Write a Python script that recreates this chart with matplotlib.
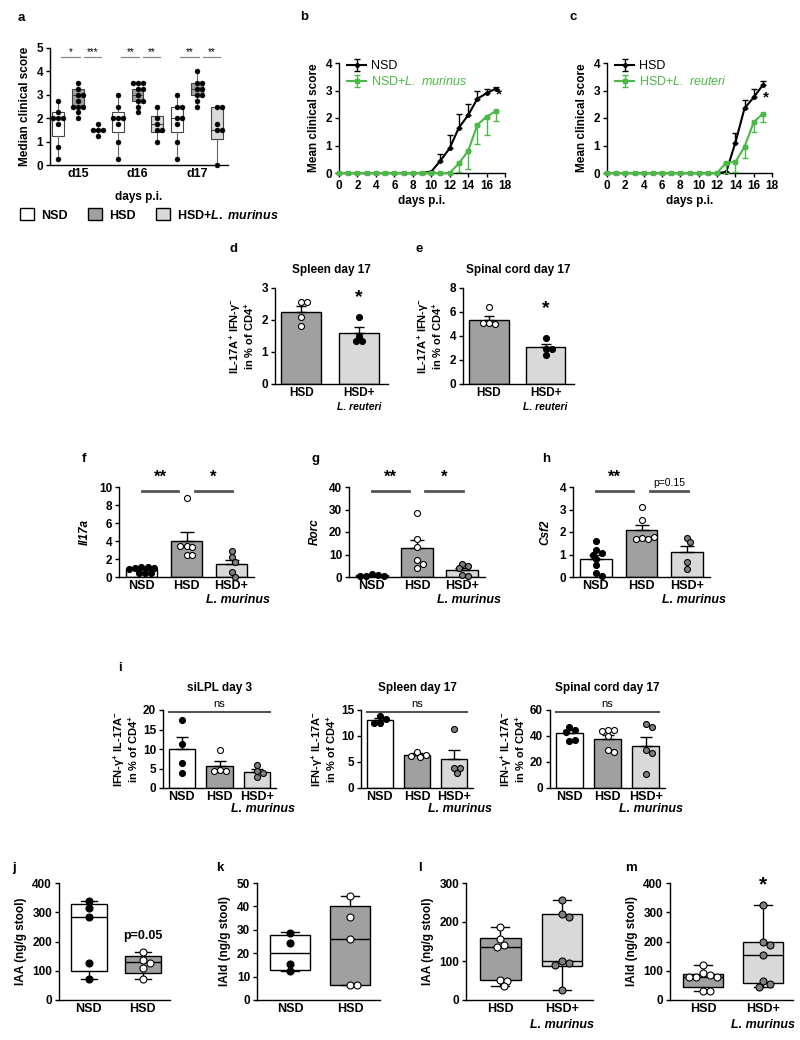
import numpy as np
import matplotlib
matplotlib.use("Agg")
import matplotlib.pyplot as plt
from matplotlib.patches import Patch

plt.rcParams['font.family'] = ['Liberation Sans', 'DejaVu Sans']
plt.rcParams['font.weight'] = 'bold'
plt.rcParams['axes.labelweight'] = 'bold'
plt.rcParams['mathtext.fontset'] = 'custom'
plt.rcParams['mathtext.rm'] = 'Liberation Sans:bold'
plt.rcParams['mathtext.bf'] = 'Liberation Sans:bold'
plt.rcParams['mathtext.it'] = 'Liberation Sans:bold:italic'
plt.rcParams['mathtext.sf'] = 'Liberation Sans:italic:regular'
plt.rcParams['axes.linewidth'] = 1.0

NARROW = ['Liberation Sans Narrow', 'Liberation Sans']
NSD_C = 'white'
HSD_C = '#a0a0a0'
LM_C = '#d9d9d9'
PT_GRAY = '#808080'
GREEN = '#4cb848'

# ---------------- data ----------------
# a: median clinical score, box stats = (low whisker, q1, median, q3, high whisker)
a_days = ['d15', 'd16', 'd17']
a_nsd_pts = [[2.75, 2.25, 2, 2, 2, 1.75, 0.75, 0.25],
             [3, 2.5, 2, 2, 2, 1.75, 1, 0.25],
             [3, 2.5, 2.5, 2, 2, 1.75, 1, 0.25]]
a_hsd_pts = [[3.5, 3.25, 3, 3, 2.75, 2.5, 2.5, 2.5, 2.25, 2],
             [3.5, 3.5, 3.5, 3.25, 3.25, 3, 2.75, 2.75, 2.5, 2.25],
             [4, 3.5, 3.5, 3.25, 3.25, 3, 3, 2.75, 2.5]]
a_lm_pts = [[1.75, 1.5, 1.5, 1.5, 1.25],
            [2.5, 2, 1.75, 1.5, 1.5, 1],
            [2.5, 2.5, 1.75, 1.5, 1.5, 0]]
a_nsd_box = [[0.25, 1.25, 2, 2.25, 2.75], [0.25, 1.4, 2, 2.25, 3], [0.25, 1.4, 2, 2.5, 3]]
a_hsd_box = [[2, 2.5, 3, 3.25, 3.5], [2.25, 2.75, 3, 3.25, 3.5], [2.5, 3, 3.25, 3.5, 4]]
a_lm_box = [[1.25, 1.45, 1.5, 1.55, 1.75], [1, 1.4, 1.75, 2.1, 2.5], [0, 1.1, 1.5, 2.5, 2.5]]
a_stars = [['*', '***'], ['**', '**'], ['**', '**']]

# b, c: mean clinical score per day
days = [0, 1, 2, 3, 4, 5, 6, 7, 8, 9, 10, 11, 12, 13, 14, 15, 16, 17]
b_nsd = [0, 0, 0, 0, 0, 0, 0, 0, 0, 0, 0.05, 0.45, 0.9, 1.65, 2.1, 2.7, 2.9, 3.07]
b_nsd_err = [0, 0, 0, 0, 0, 0, 0, 0, 0, 0, 0.02, 0.25, 0.5, 0.5, 0.4, 0.27, 0.15, 0.05]
b_lm = [0, 0, 0, 0, 0, 0, 0, 0, 0, 0, 0, 0, 0, 0.35, 0.8, 1.75, 2.05, 2.25]
b_lm_err = [0, 0, 0, 0, 0, 0, 0, 0, 0, 0, 0, 0, 0, 0.3, 0.65, 0.7, 0.65, 0.35]
c_hsd = [0, 0, 0, 0, 0, 0, 0, 0, 0, 0, 0, 0, 0, 0.03, 1.1, 2.35, 2.75, 3.2]
c_hsd_err = [0, 0, 0, 0, 0, 0, 0, 0, 0, 0, 0, 0, 0, 0, 0.35, 0.3, 0.3, 0.15]
c_lr = [0, 0, 0, 0, 0, 0, 0, 0, 0, 0, 0, 0, 0, 0.38, 0.4, 0.95, 1.85, 2.15]
c_lr_err = [0, 0, 0, 0, 0, 0, 0, 0, 0, 0, 0, 0, 0, 0.38, 0.35, 0.4, 0.35, 0.3]

# d, e
de_groups = ['HSD', 'HSD+']
de_sub = ['', 'L. reuteri']
d_mean = [2.25, 1.6]
d_sem = [0.2, 0.18]
d_pts = [[2.57, 2.57, 2.1, 1.8], [2.1, 1.5, 1.35, 1.35]]
e_mean = [5.35, 3.05]
e_sem = [0.35, 0.25]
e_pts = [[6.4, 5.1, 5.0, 5.1], [3.8, 2.9, 2.9, 2.4]]

# f, g, h
groups3 = ['NSD', 'HSD', 'HSD+']
sub3 = ['', '', 'L. murinus']
f_mean = [0.85, 4.05, 1.4]
f_sem = [0.15, 0.95, 0.5]
f_pts = [[1.1, 1.1, 1.0, 1.0, 0.9, 0.5, 0.4, 0.5], [8.8, 3.4, 3.3, 3.5, 2.5, 2.4], [2.9, 2.2, 1.7, 0.6, 0.0]]
g_mean = [0.8, 12.8, 3.2]
g_sem = [0.25, 3.7, 0.8]
g_pts = [[1.5, 0.8, 0.5, 0.3, 0.6], [28.5, 17.0, 13.5, 7.5, 6.0, 4.0], [5.8, 5.0, 3.8, 0.8, 0.5]]
h_mean = [0.82, 2.08, 1.1]
h_sem = [0.17, 0.23, 0.3]
h_pts = [[1.6, 1.2, 1.05, 1.0, 0.8, 0.55, 0.2, 0.05], [3.1, 2.55, 1.75, 1.7, 1.7, 1.8], [1.75, 1.55, 0.65, 0.35]]

# i
i1_mean = [10.0, 5.7, 4.1]
i1_sem = [3.0, 1.3, 0.8]
i1_pts = [[17.5, 11.3, 6.4, 3.8], [9.8, 4.6, 4.3, 4.3], [5.9, 4.3, 2.8, 3.8]]
i2_mean = [13.0, 6.3, 5.5]
i2_sem = [0.4, 0.4, 1.9]
i2_pts = [[13.9, 13.3, 12.5, 12.5], [6.9, 6.0, 6.1, 6.3], [11.3, 3.8, 2.9, 3.8]]
i3_mean = [42, 38, 32.5]
i3_sem = [3, 2.5, 7]
i3_pts = [[47, 45, 43, 36, 37], [45, 45, 44, 40, 29, 28], [49.5, 47, 29.5, 27, 11]]

# j-m: boxes (low whisker, q1, median, q3, high whisker) and points
j_box = [[72, 98, 283, 327, 337], [73, 92, 130, 150, 165]]
j_pts = [[337, 315, 283, 125, 72], [165, 138, 128, 110, 73]]
k_box = [[12.3, 13, 20, 27.7, 28.9], [6.2, 6.4, 26, 40, 44.4]]
k_pts = [[28.8, 24.2, 15.5, 12.3], [44.4, 35.5, 26, 6.3, 6.5]]
l_box = [[35, 52, 135, 158, 188], [25, 88, 100, 221, 256]]
l_pts = [[188, 157, 142, 135, 52, 50, 36], [256, 221, 213, 100, 95, 90, 25]]
m_box = [[30, 43, 80, 88, 118], [45, 57, 155, 200, 325]]
m_pts = [[118, 92, 85, 80, 80, 78, 32, 32], [325, 198, 188, 155, 65, 55, 45]]

# ---------------- figure ----------------
W, H = 800, 1040
fig = plt.figure(figsize=(8, 10.4), dpi=100)


def px_axes(l, t, r, b):
    return fig.add_axes([l / W, 1 - b / H, (r - l) / W, (b - t) / H])


def style(ax, size=8.5, family=None, xticklen=0):
    for s in ['top', 'right']:
        ax.spines[s].set_visible(False)
    ax.tick_params(direction='out', length=3, width=1, labelsize=size, pad=2)
    ax.tick_params(axis='x', length=xticklen)
    if family is not None:
        ax.tick_params(labelfontfamily=family)


def swarm(ax, xc, vals, diam):
    # spread points of the same height side by side (diam in pixels)
    disp = ax.transData.transform(np.column_stack([np.full(len(vals), xc), vals]))
    placed, out = [], []
    for px, py in disp:
        cx = px
        for k in [0, 1, -1, 2, -2, 3, -3, 4, -4]:
            cx = px + k * diam * 0.5
            if all((cx - qx) ** 2 + (py - qy) ** 2 >= (diam * 0.9) ** 2 for qx, qy in placed):
                break
        placed.append((cx, py))
        out.append(ax.transData.inverted().transform((cx, py))[0])
    return np.array(out)


def dots(ax, xc, vals, face, diam=6.0, lw=0.8):
    xs = swarm(ax, xc, vals, diam)
    ax.scatter(xs, vals, s=(diam * 0.72) ** 2, c=face, edgecolors='black',
               linewidths=lw, zorder=4, clip_on=False)


def sub_labels(ax, xs, texts, size, family, dy, dx=0):
    for x, t in zip(xs, texts):
        if t:
            ax.annotate(t, xy=(x, 0), xycoords=('data', 'axes fraction'),
                        xytext=(dx, -dy), textcoords='offset points', ha='center', va='top',
                        fontsize=size, fontstyle='italic', fontweight='bold', family=family,
                        annotation_clip=False)


def letter(x, y, s):
    fig.text(x / W, 1 - y / H, s, fontsize=9.5, fontweight='bold', ha='left', va='center')


# ----- a -----
ax = px_axes(50, 48, 228, 165)
style(ax, size=8.5)
pos = np.arange(1, 4)
offs = [-0.33, 0, 0.33]
ax.set_xlim(0.53, 3.52)
ax.set_ylim(0, 5)
for gi, (boxes, pts, fc) in enumerate(zip([a_nsd_box, a_hsd_box, a_lm_box],
                                           [a_nsd_pts, a_hsd_pts, a_lm_pts],
                                           [NSD_C, HSD_C, LM_C])):
    stats = [dict(whislo=b[0], q1=b[1], med=b[2], q3=b[3], whishi=b[4]) for b in boxes]
    ax.bxp(stats, positions=pos + offs[gi], widths=0.2, showfliers=False, showcaps=False,
           patch_artist=True, manage_ticks=False,
           boxprops=dict(facecolor=fc, edgecolor='#444444', linewidth=0.8),
           medianprops=dict(color='#444444', linewidth=0.8),
           whiskerprops=dict(color='#666666', linewidth=0.8))
    for p, v in zip(pos + offs[gi], pts):
        dots(ax, p, v, 'black', diam=5.0, lw=0.3)
for p, st in zip(pos, a_stars):
    ax.plot([p - 0.28, p + 0.03], [4.6, 4.6], color='#888888', lw=0.9)
    ax.plot([p + 0.1, p + 0.38], [4.6, 4.6], color='#888888', lw=0.9)
    ax.text(p - 0.12, 4.62, st[0], ha='center', va='bottom', fontsize=7, fontweight='normal')
    ax.text(p + 0.24, 4.62, st[1], ha='center', va='bottom', fontsize=7, fontweight='normal')
ax.set_xticks(pos)
ax.set_xticklabels(a_days, fontsize=9)
ax.set_yticks([0, 1, 2, 3, 4, 5])
ax.set_xlabel('days p.i.', fontsize=8.5, labelpad=8)
ax.set_ylabel('Median clinical score', fontsize=8.5, labelpad=4)
fig.legend(handles=[Patch(facecolor=NSD_C, edgecolor='black'),
                    Patch(facecolor=HSD_C, edgecolor='black'),
                    Patch(facecolor=LM_C, edgecolor='black')],
           labels=['NSD', 'HSD', r'HSD+$\mathit{L.\ murinus}$'],
           loc='center left', bbox_to_anchor=(20 / W, 1 - 215 / H), ncol=3, frameon=False,
           handlelength=1.1, handleheight=1.1, columnspacing=1.6, handletextpad=0.6,
           borderaxespad=0, borderpad=0, prop=dict(size=9, weight='bold'))
letter(18, 18, 'a')


# ----- b, c -----
def course(ax, y1, e1, y2, e2, lab1, lab2):
    style(ax, size=8.5, xticklen=3)
    z = np.zeros(len(days))
    ax.errorbar(days, y1, yerr=[z, e1], color='black', marker='o', ms=2.5, lw=1.5,
                capsize=2.5, elinewidth=1, capthick=1, label=lab1, clip_on=False, zorder=3)
    ax.errorbar(days, y2, yerr=[e2, z], color=GREEN, marker='s', ms=3.5, lw=1.5,
                capsize=2.5, elinewidth=1, capthick=1, label=lab2, clip_on=False, zorder=4)
    ax.set_xlim(0, 18)
    ax.set_ylim(0, 4)
    ax.set_xticks(range(0, 19, 2))
    ax.set_yticks([0, 1, 2, 3, 4])
    ax.set_xlabel('days p.i.', fontsize=8.5, labelpad=2)
    ax.set_ylabel('Mean clinical score', fontsize=8.5, labelpad=4)
    leg = ax.legend(loc='upper left', bbox_to_anchor=(0.02, 1.07), frameon=False,
                    prop=dict(size=9, weight='normal'), handlelength=1.5,
                    handletextpad=0.4, borderaxespad=0, labelspacing=0.25)
    leg.get_texts()[1].set_color(GREEN)
    ax.text(17.3, y2[-1] + 0.35, '*', ha='center', va='bottom', fontsize=11)


ax = px_axes(339, 63, 505, 173)
course(ax, b_nsd, b_nsd_err, b_lm, b_lm_err, 'NSD', r'NSD+$\mathsf{L.\ murinus}$')
letter(300, 17, 'b')
ax = px_axes(607, 63, 772, 173)
course(ax, c_hsd, c_hsd_err, c_lr, c_lr_err, 'HSD', r'HSD+$\mathsf{L.\ reuteri}$')
letter(569, 17, 'c')


# ----- bar panels -----
def bar_panel(ax, means, sems, pts, bar_cols, pt_cols, ylim, yticks, xlim, cap=4):
    x = np.arange(len(means))
    ax.set_xlim(*xlim)
    ax.set_ylim(*ylim)
    ax.bar(x, means, width=0.7, color=bar_cols, edgecolor='black', linewidth=1, zorder=1)
    ax.errorbar(x, means, yerr=[np.zeros(len(means)), sems], fmt='none', ecolor='black',
                elinewidth=1, capsize=cap, capthick=1, zorder=2)
    for xi, vals, pc in zip(x, pts, pt_cols):
        dots(ax, xi, vals, pc)
    ax.set_yticks(yticks)
    ax.set_xticks(x)


DE_YLAB = 'IL-17A$^{\\mathbf{+}}$ IFN-γ$^{\\mathbf{-}}$\nin % of CD4$^{\\mathbf{+}}$'
for rect, means, sems, pts, ylim, yt, title, lx, star in [
        ((275, 288, 388, 384), d_mean, d_sem, d_pts, (0, 3), [0, 1, 2, 3], 'Spleen day 17', 230, 2.45),
        ((463, 288, 574, 384), e_mean, e_sem, e_pts, (0, 8), [0, 2, 4, 6, 8], 'Spinal cord day 17', 415, 5.6)]:
    ax = px_axes(*rect)
    style(ax, size=8.5, family=NARROW)
    bar_panel(ax, means, sems, pts, [HSD_C, LM_C], ['white', 'black'], ylim, yt, (-0.45, 1.5), cap=3.5)
    ax.set_xticklabels(de_groups)
    sub_labels(ax, [0, 1], de_sub, 7.5, NARROW, 13)
    ax.set_title(title, fontsize=8.5, fontweight='bold', pad=11)
    ax.set_ylabel(DE_YLAB, fontsize=8, labelpad=4, linespacing=1.0)
    ax.text(1, star, '*', ha='center', va='bottom', fontsize=14)
    letter(lx, 249, 'd' if lx < 300 else 'e')

# ----- f, g, h -----
for rect, means, sems, pts, ylim, yt, ylab, lx, lt, sig, sy, ty in [
        ((119, 487, 254, 577), f_mean, f_sem, f_pts, (0, 10), [0, 2, 4, 6, 8, 10], 'Il17a', 82, 'f', ['**', '*'], 9.55, 10.3),
        ((349, 487, 485, 577), g_mean, g_sem, g_pts, (0, 40), [0, 10, 20, 30, 40], 'Rorc', 312, 'g', ['**', '*'], 38.2, 41.2),
        ((573, 487, 710, 577), h_mean, h_sem, h_pts, (0, 4), [0, 1, 2, 3, 4], 'Csf2', 542, 'h', ['**', 'p=0.15'], 3.82, 4.12)]:
    ax = px_axes(*rect)
    style(ax, size=8.5, family=NARROW)
    bar_panel(ax, means, sems, pts, [NSD_C, HSD_C, LM_C], ['black', 'white', PT_GRAY],
              ylim, yt, (-0.5, 2.5), cap=5)
    ax.set_xticklabels(groups3, fontsize=9)
    sub_labels(ax, [0, 1, 2], sub3, 9, NARROW, 12, dx=5)
    ax.set_ylabel(ylab, fontsize=8.5, fontstyle='italic', family=NARROW, labelpad=6)
    ax.plot([0, 0.82], [sy, sy], color='#555555', lw=2, clip_on=False)
    ax.plot([1.18, 2.02], [sy, sy], color='#555555', lw=2, clip_on=False)
    ax.text(0.41, ty, sig[0], ha='center', va='bottom', fontsize=12, family=NARROW)
    if sig[1].startswith('p'):
        ax.text(1.6, sy + (ylim[1] * 0.03), sig[1], ha='center', va='bottom', fontsize=7.5,
                fontweight='normal', family=NARROW)
    else:
        ax.text(1.6, ty, sig[1], ha='center', va='bottom', fontsize=12, family=NARROW)
    letter(lx, 459, lt)

# ----- i -----
I_YLAB = 'IFN-γ$^{\\mathbf{+}}$ IL-17A$^{\\mathbf{-}}$\nin % of CD4$^{\\mathbf{+}}$'
letter(118, 668, 'i')
for rect, means, sems, pts, ylim, yt, title in [
        ((163, 710, 276, 788), i1_mean, i1_sem, i1_pts, (0, 20), [0, 5, 10, 15, 20], 'siLPL day 3'),
        ((361, 710, 473, 788), i2_mean, i2_sem, i2_pts, (0, 15), [0, 5, 10, 15], 'Spleen day 17'),
        ((550, 710, 665, 788), i3_mean, i3_sem, i3_pts, (0, 60), [0, 20, 40, 60], 'Spinal cord day 17')]:
    ax = px_axes(*rect)
    style(ax, size=8.5, family=NARROW)
    bar_panel(ax, means, sems, pts, [NSD_C, HSD_C, LM_C], ['black', 'white', PT_GRAY],
              ylim, yt, (-0.5, 2.5), cap=4)
    ax.set_xticklabels(groups3, fontsize=9)
    sub_labels(ax, [0, 1, 2], sub3, 9, NARROW, 11, dx=4)
    ax.set_title(title, fontsize=8.5, fontweight='bold', family=NARROW, pad=14)
    ax.set_ylabel(I_YLAB, fontsize=8, labelpad=2, linespacing=1.0)
    top = ylim[1] * 0.97
    ax.plot([-0.35, 2.35], [top, top], color='#555555', lw=1.5, clip_on=False)
    ax.text(1, top + ylim[1] * 0.04, 'ns', ha='center', va='bottom', fontsize=8,
            fontweight='normal', family=NARROW)


# ----- j-m -----
def box_panel(ax, boxes, pts, cols, pt_cols, ylim, yticks):
    style(ax, size=8.5)
    ax.set_xlim(-0.55, 1.5)
    ax.set_ylim(*ylim)
    stats = [dict(whislo=b[0], q1=b[1], med=b[2], q3=b[3], whishi=b[4]) for b in boxes]
    bp = ax.bxp(stats, positions=[0, 1], widths=0.66, showfliers=False, patch_artist=True,
                manage_ticks=False, capwidths=0.3,
                boxprops=dict(edgecolor='black', linewidth=1),
                medianprops=dict(color='black', linewidth=1),
                whiskerprops=dict(color='black', linewidth=1),
                capprops=dict(color='black', linewidth=1))
    for patch, c in zip(bp['boxes'], cols):
        patch.set_facecolor(c)
    for xi, vals, pc in zip([0, 1], pts, pt_cols):
        dots(ax, xi, vals, pc, diam=7.0)
    ax.set_yticks(yticks)
    ax.set_xticks([0, 1])


ax = px_axes(59, 883, 170, 1000)
box_panel(ax, j_box, j_pts, [NSD_C, HSD_C], ['black', 'white'], (0, 400), [0, 100, 200, 300, 400])
ax.set_xticklabels(['NSD', 'HSD'], fontsize=9)
ax.set_ylabel('IAA (ng/g stool)', fontsize=8.5, labelpad=4)
ax.text(1, 200, 'p=0.05', ha='center', va='bottom', fontsize=9)
letter(12, 868, 'j')

ax = px_axes(257, 883, 380, 1000)
box_panel(ax, k_box, k_pts, [NSD_C, HSD_C], ['black', 'white'], (0, 50), [0, 10, 20, 30, 40, 50])
ax.set_xticklabels(['NSD', 'HSD'], fontsize=9)
ax.set_ylabel('IAld (ng/g stool)', fontsize=8.5, labelpad=4)
letter(216, 868, 'k')

ax = px_axes(466, 883, 593, 1000)
box_panel(ax, l_box, l_pts, [HSD_C, LM_C], ['white', PT_GRAY], (0, 300), [0, 100, 200, 300])
ax.set_xticklabels(['HSD', 'HSD+'], fontsize=9)
sub_labels(ax, [0, 1], ['', 'L. murinus'], 9, None, 14)
ax.set_ylabel('IAA (ng/g stool)', fontsize=8.5, labelpad=4)
letter(418, 868, 'l')

ax = px_axes(670, 883, 793, 1000)
box_panel(ax, m_box, m_pts, [HSD_C, LM_C], ['white', PT_GRAY], (0, 400), [0, 100, 200, 300, 400])
ax.set_xticklabels(['HSD', 'HSD+'], fontsize=9)
sub_labels(ax, [0, 1], ['', 'L. murinus'], 9, None, 14)
ax.set_ylabel('IAld (ng/g stool)', fontsize=8.5, labelpad=4)
ax.text(1, 360, '*', ha='center', va='bottom', fontsize=15)
letter(625, 868, 'm')

fig.savefig('out.png', dpi=100, facecolor='white')
